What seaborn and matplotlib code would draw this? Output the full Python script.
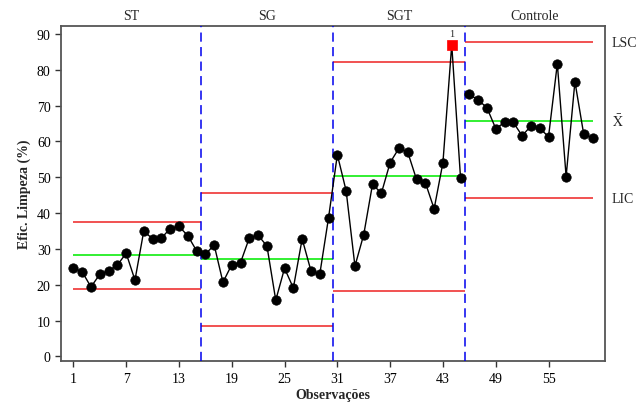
import numpy as np
import pandas as pd
import seaborn as sns
from matplotlib import pyplot as plt

# valores (carta I com estagios)
estagios = ["ST", "SG", "SGT", "Controle"]
st = [24.7, 23.6, 19.4, 22.9, 23.9, 25.5, 28.8, 21.3, 35.0, 32.8, 33.0, 35.7, 36.3, 33.7, 29.5]
sg = [28.5, 31.1, 20.7, 25.6, 26.2, 33.1, 33.8, 30.8, 15.7, 24.6, 19.1, 32.8, 23.9, 22.9, 38.7]
sgt = [56.3, 46.2, 25.2, 34.0, 48.1, 45.5, 54.1, 58.1, 57.0, 49.4, 48.5, 41.2, 54.1, 87.0, 49.8]
controle = [73.1, 71.6, 69.4, 63.6, 65.3, 65.3, 61.6, 64.3, 63.7, 61.3, 81.7, 50.2, 76.7, 62.0, 61.0]
lsc = [37.6, 45.7, 82.1, 87.7]
media = [28.4, 27.2, 50.4, 65.8]
lic = [18.9, 8.5, 18.2, 44.1]
fora = [44]	#ponto fora de controle (teste 1)
xticks = [1, 7, 13, 19, 25, 31, 37, 43, 49, 55]

valores = st + sg + sgt + controle
n = len(valores)
obs = np.arange(1, n+1)
grupo = np.repeat(estagios, 15)
trecho = np.where(obs <= 45, 0, 1)	#a linha nao liga SGT com Controle
df = pd.DataFrame({"obs": obs, "efic": valores, "estagio": grupo, "trecho": trecho})
df["fora"] = df.obs.isin(fora)

sns.set_theme(style="white")
plt.rcParams["font.family"] = ["Liberation Serif", "DejaVu Serif"]
plt.rcParams["mathtext.fontset"] = "stix"
fs = 10

fig = plt.figure(figsize=(6.36, 4.10), dpi=100)
ax = fig.add_axes([0.096, 0.116, 0.855, 0.818])

# limites de cada estagio
bordas = [0.5 + 15*i for i in range(5)]
bordas[0], bordas[-1] = 1, 60
for i in range(4):
	a, b = bordas[i], bordas[i+1]
	ax.hlines(lsc[i], a, b, color="#ee2222", lw=1.1, zorder=2)
	ax.hlines(lic[i], a, b, color="#ee2222", lw=1.1, zorder=2)
	ax.hlines(media[i], a, b, color="#22ee22", lw=1.3, zorder=2)
for xb in bordas[1:-1]:
	ax.axvline(xb, color="#0000ee", lw=1.1, ls=(0, (6, 3.5)), zorder=3)

# linha ligando as observacoes, depois os pontos
sns.lineplot(data=df, x="obs", y="efic", units="trecho", estimator=None, color="black", lw=1.0, ax=ax, zorder=4)
ok = df[~df.fora]
sns.scatterplot(data=ok, x="obs", y="efic", color="black", edgecolor="black", s=46, linewidth=0.5, ax=ax, zorder=5)
ruim = df[df.fora]
sns.scatterplot(data=ruim, x="obs", y="efic", color="#ff0000", edgecolor="#ff0000", marker="s", s=52, linewidth=0.5, ax=ax, zorder=5)
for x, y in zip(ruim.obs, ruim.efic):
	ax.annotate("1", xy=(x, y), xytext=(0, 5), textcoords="offset points", ha="center", va="bottom", fontsize=7.5)

ax.set_xlim(-0.4, 61.4)
ax.set_ylim(-1.4, 92.2)
ax.set_xticks(xticks)
ax.set_yticks(range(0, 91, 10))
ax.tick_params(axis="both", direction="out", length=4, width=1, colors="#333333", labelsize=fs, labelcolor="black")
ax.tick_params(left=True, bottom=True)
for sp in ax.spines.values():
	sp.set_color("#555555")
	sp.set_linewidth(1.3)
ax.set_xlabel("Observações", fontsize=fs, fontweight="bold", labelpad=2)
ax.set_ylabel("Efic. Limpeza (%)", fontsize=fs, fontweight="bold", labelpad=4)

# nomes dos estagios em cima
lims = [-0.4, 15.5, 30.5, 45.5, 61.4]
for i, nome in enumerate(estagios):
	ax.text((lims[i]+lims[i+1])/2, 1.012, nome, transform=ax.get_xaxis_transform(), ha="center", va="bottom", fontsize=fs)
# rotulos a direita (ultimo estagio)
trans = ax.get_yaxis_transform()
ax.text(1.013, lsc[-1], "LSC", transform=trans, ha="left", va="center", fontsize=fs)
ax.text(1.013, media[-1], r"$\mathrm{\bar{X}}$", transform=trans, ha="left", va="center", fontsize=fs)
ax.text(1.013, lic[-1], "LIC", transform=trans, ha="left", va="center", fontsize=fs)

fig.savefig("out.png", dpi=100)
